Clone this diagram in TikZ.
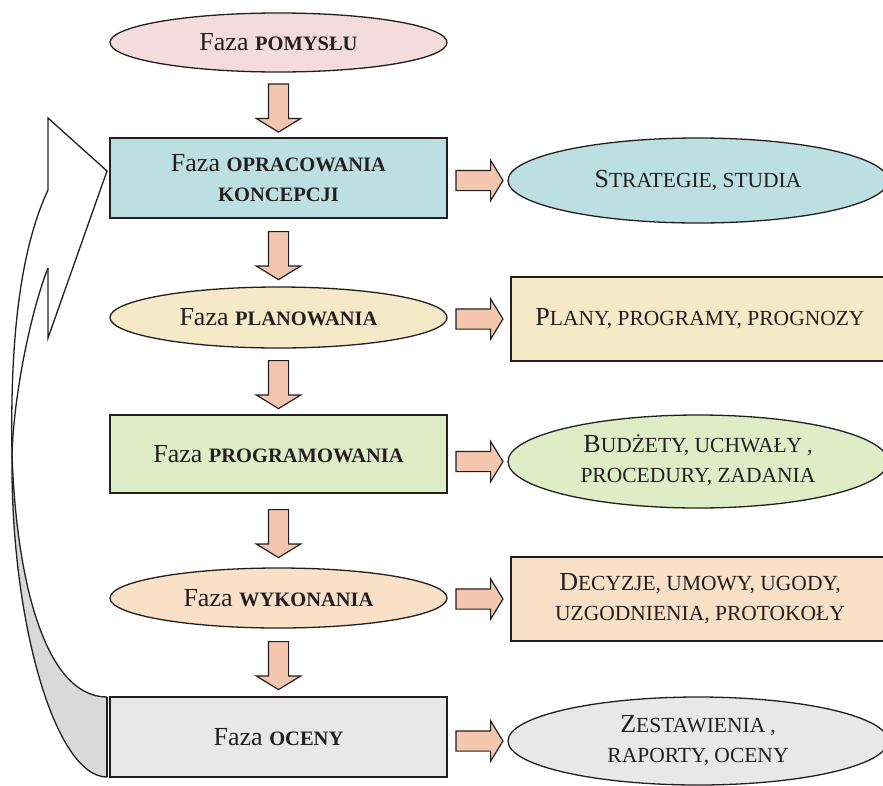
\documentclass[tikz,border=0pt]{standalone}
\usepackage{fontspec}
\setmainfont{Liberation Serif}
\usetikzlibrary{shapes.geometric,shapes.arrows,calc}
\definecolor{linec}{HTML}{231F20}
\definecolor{pinkc}{HTML}{F5DCDC}
\definecolor{bluec}{HTML}{BCDFE1}
\definecolor{yelc}{HTML}{F6E9C7}
\definecolor{greenc}{HTML}{DEEDC6}
\definecolor{peachc}{HTML}{F9E0C6}
\definecolor{greyc}{HTML}{E8E8E8}
\definecolor{darkgreyc}{HTML}{D9D9D9}
\definecolor{arrowc}{HTML}{F4C6AE}
\newcommand\bsctext[1]{{\fontsize{20.5}{30}\selectfont\bfseries #1}}
\newcommand\smtext[1]{{\fontsize{21.5}{30}\selectfont #1}}
\tikzset{
  phase/.style={draw=linec, line width=1.3pt, inner sep=0pt, align=center,
    text=linec, font=\fontsize{26}{30}\selectfont},
  phasebox/.style={phase, rectangle, minimum width=337pt},
  phaseell/.style={phase, ellipse, minimum width=337pt},
  resbox/.style={phase, rectangle, minimum width=378pt, minimum height=84pt},
  resell/.style={phase, ellipse, minimum width=380pt},
  downarr/.style={single arrow, draw=linec, fill=arrowc, line width=1.2pt,
    minimum height=48pt, single arrow head extend=12pt,
    single arrow tip angle=117, inner sep=9.5pt, shape border rotate=270},
  rightarr/.style={single arrow, draw=linec, fill=arrowc, line width=1.2pt,
    minimum height=47pt, single arrow head extend=10pt,
    single arrow tip angle=117, inner sep=9.5pt},
  curve/.style={draw=linec, line width=1.3pt, line join=miter}
}
\begin{document}
\begin{tikzpicture}[x=1pt,y=-1pt]
\useasboundingbox (0,0) rectangle (883,785);
\clip (0,0) rectangle (883,785);
\fill[white] (0,0) rectangle (883,785);

% big curved feedback arrow
\coordinate (X) at (12,453);
\coordinate (hA) at (48,190);
\coordinate (hTop) at (48,118);
\coordinate (hTip) at (107,171);
\coordinate (hBot) at (48,338);
\coordinate (hB) at (48,268);
\coordinate (eA) at (107,697);
\coordinate (eB) at (107,777);
\fill[darkgreyc] (X) .. controls (16,580) and (45,697) .. (eA) -- (eB)
   .. controls (55,777) and (10,620) .. (X) -- cycle;
\draw[curve] (hA) -- (hTop) -- (hTip) -- (hBot) -- (hB);
\draw[curve] (hA) .. controls (20,250) and (10,340) .. (X)
   .. controls (16,580) and (45,697) .. (eA);
\draw[curve] (hB) .. controls (35,300) and (15,380) .. (X)
   .. controls (10,620) and (55,777) .. (eB);
\draw[curve] (eA) -- (eB);

% left column
\node[phaseell, fill=pinkc, minimum height=59pt] (pom) at (278.5,42.5) {Faza \bsctext{POMYSŁU}};
\node[phasebox, fill=bluec, minimum height=80pt] (kon) at (278.5,178) {Faza \bsctext{OPRACOWANIA}\\\bsctext{KONCEPCJI}};
\node[phaseell, fill=yelc, minimum height=61pt] (pla) at (278.5,317.5) {Faza \bsctext{PLANOWANIA}};
\node[phasebox, fill=greenc, minimum height=78pt] (prg) at (278.5,454) {Faza \bsctext{PROGRAMOWANIA}};
\node[phaseell, fill=peachc, minimum height=60pt] (wyk) at (278.5,598) {Faza \bsctext{WYKONANIA}};
\node[phasebox, fill=greyc, minimum height=80pt] (oce) at (278.5,737) {Faza \bsctext{OCENY}};

% right column
\node[resell, fill=bluec, minimum height=85pt] (str) at (698,180.5) {S\smtext{TRATEGIE, STUDIA}};
\node[resbox, fill=yelc] (pln) at (700,319) {P\smtext{LANY, PROGRAMY, PROGNOZY}};
\node[resell, fill=greenc, minimum height=93pt] (bud) at (698,461.5) {\begin{tabular}{@{}c@{}}B\smtext{UDŻETY, UCHWAŁY}\smtext{\kern5pt,}\\\smtext{PROCEDURY, ZADANIA}\end{tabular}};
\node[resbox, fill=peachc] (dec) at (700,599) {D\smtext{ECYZJE, UMOWY, UGODY,}\\\smtext{UZGODNIENIA, PROTOKOŁY}};
\node[resell, fill=greyc, minimum height=88pt] (zes) at (698,741) {\begin{tabular}{@{}c@{}}Z\smtext{ESTAWIENIA}\smtext{\kern5pt,}\\\smtext{RAPORTY, OCENY}\end{tabular}};

% down arrows
\node[downarr] (d1) at ($(pom.south)!0.5!(kon.north)$) {};
\node[downarr] (d2) at ($(kon.south)!0.5!(pla.north)$) {};
\node[downarr] (d3) at ($(pla.south)!0.5!(prg.north)$) {};
\node[downarr] (d4) at ($(prg.south)!0.5!(wyk.north)$) {};
\node[downarr] (d5) at ($(wyk.south)!0.5!(oce.north)$) {};

% right arrows
\node[rightarr] (r1) at ($(str.west)+(-31,0)$) {};
\node[rightarr] (r2) at ($(pln.west)+(-34,0)$) {};
\node[rightarr] (r3) at ($(bud.west)+(-31,0)$) {};
\node[rightarr] (r4) at ($(dec.west)+(-34,0)$) {};
\node[rightarr] (r5) at ($(zes.west)+(-31,0)$) {};
\end{tikzpicture}
\end{document}
